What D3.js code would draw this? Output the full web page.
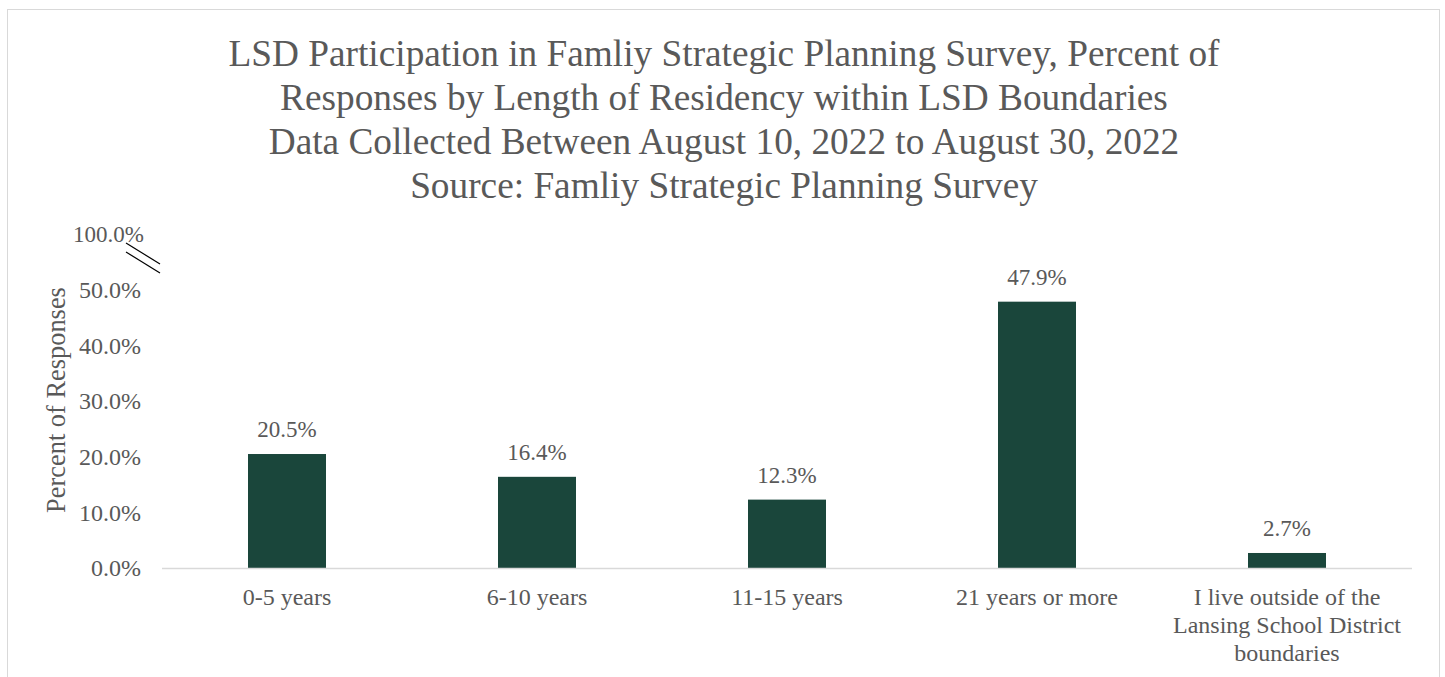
<!DOCTYPE html>
<html>
<head>
<meta charset="utf-8">
<script src="https://cdn.jsdelivr.net/npm/d3@7"></script>
<style>
  html, body { margin: 0; padding: 0; background: #fff; }
  svg { display: block; }
  text { font-family: "Liberation Serif", "Times New Roman", serif; fill: #595959; }
</style>
</head>
<body>
<svg id="chart" width="1445" height="677"></svg>
<script>
const titleLines = [
  "LSD Participation in Famliy Strategic Planning Survey, Percent of",
  "Responses by Length of Residency within LSD Boundaries",
  "Data Collected Between August 10, 2022 to August 30, 2022",
  "Source: Famliy Strategic Planning Survey"
];
const categories = ["0-5 years", "6-10 years", "11-15 years", "21 years or more", "I live outside of the Lansing School District boundaries"];
const values = [20.5, 16.4, 12.3, 47.9, 2.7];
const yTicks = [0, 10, 20, 30, 40, 50];
const breakLabel = "100.0%";
const yAxisTitle = "Percent of Responses";

const svg = d3.select("#chart");

// outer border
svg.append("rect").attr("x", 7.5).attr("y", 9.5).attr("width", 1432).attr("height", 680)
  .attr("fill", "none").attr("stroke", "#d9d9d9").attr("stroke-width", 1);

// title
const title = svg.append("text").attr("text-anchor", "middle").attr("font-size", 37.3);
titleLines.forEach((t, i) => {
  title.append("tspan").attr("x", 724).attr("y", 66 + i * 44).text(t);
});

const x = d3.scaleBand().domain(categories).range([162, 1412]).paddingInner(0.688).paddingOuter(0.344);
const y = d3.scaleLinear().domain([0, 50]).range([568, 290]);

// y axis labels
const yAxis = d3.axisLeft(y).tickValues(yTicks).tickSize(0).tickPadding(0).tickFormat(d => d3.format(".1f")(d) + "%");
const yg = svg.append("g").attr("transform", "translate(141,0)").call(yAxis);
yg.select(".domain").remove();
yg.selectAll("text").attr("font-size", 24).attr("font-family", "Liberation Serif").attr("fill", "#595959").attr("dy", "0.32em");

// break label and marks
svg.append("text").attr("x", 144).attr("y", 242).attr("text-anchor", "end").attr("font-size", 23).text(breakLabel);
const brk = svg.append("g").attr("stroke", "#000").attr("stroke-width", 1.2);
brk.append("line").attr("x1", 126).attr("y1", 243).attr("x2", 160).attr("y2", 264);
brk.append("line").attr("x1", 126).attr("y1", 252).attr("x2", 160).attr("y2", 273);

// axis title
svg.append("text").attr("transform", "translate(65,400) rotate(-90)")
  .attr("text-anchor", "middle").attr("font-size", 26.4).text(yAxisTitle);

// bars
svg.append("g").selectAll("rect").data(values).join("rect")
  .attr("x", (d, i) => x(categories[i]))
  .attr("y", d => y(d))
  .attr("width", x.bandwidth())
  .attr("height", d => y(0) - y(d))
  .attr("fill", "#1a463b");

// data labels
svg.append("g").selectAll("text").data(values).join("text")
  .attr("x", (d, i) => x(categories[i]) + x.bandwidth() / 2)
  .attr("y", d => y(d) - 17)
  .attr("text-anchor", "middle").attr("font-size", 23)
  .text(d => d3.format(".1f")(d) + "%");

// baseline
svg.append("line").attr("x1", 162).attr("x2", 1412).attr("y1", 568.5).attr("y2", 568.5)
  .attr("stroke", "#d9d9d9").attr("stroke-width", 1.5);

// x axis labels
const xAxis = d3.axisBottom(x).tickSize(0).tickPadding(0);
const xg = svg.append("g").attr("transform", "translate(0,568)").call(xAxis);
xg.select(".domain").remove();
xg.selectAll("text").attr("font-size", 24).attr("font-family", "Liberation Serif").attr("fill", "#595959")
  .attr("y", 37).attr("dy", 0)
  .each(function() {
    const t = d3.select(this);
    const words = t.text().split(" ");
    t.text(null);
    let line = [];
    let lineNo = 0;
    let tspan = t.append("tspan").attr("x", 0).attr("y", 37);
    words.forEach(w => {
      line.push(w);
      tspan.text(line.join(" "));
      if (tspan.node().getComputedTextLength() > 240 && line.length > 1) {
        line.pop();
        tspan.text(line.join(" "));
        line = [w];
        lineNo++;
        tspan = t.append("tspan").attr("x", 0).attr("y", 37 + lineNo * 28).text(w);
      }
    });
  });
</script>
</body>
</html>
